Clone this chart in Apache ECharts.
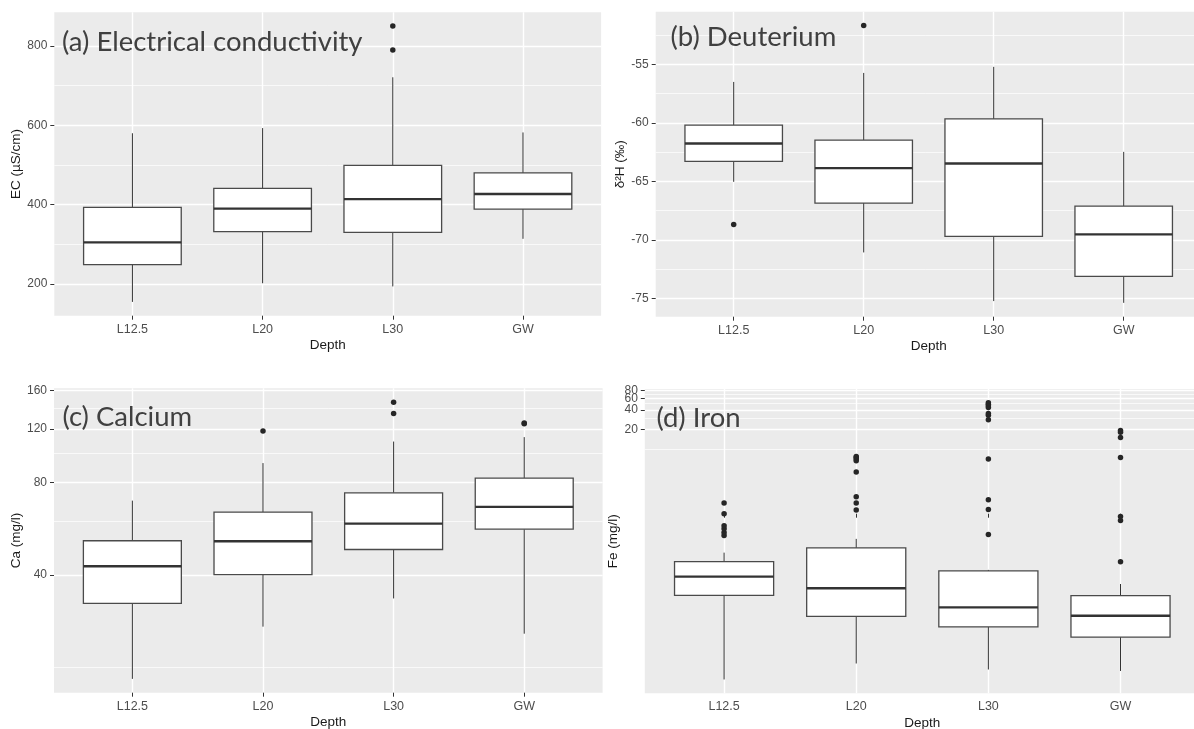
<!DOCTYPE html>
<html>
<head>
<meta charset="utf-8">
<script src="https://cdn.jsdelivr.net/npm/echarts@6/dist/echarts.min.js"></script>
<style>
  html, body { margin: 0; padding: 0; background: #ffffff; }
  #chart { width: 1194px; height: 729px; }
</style>
</head>
<body>
<div id="chart"></div>
<script>
// Sampling depths (x categories)
const depths = ['L12.5', 'L20', 'L30', 'GW'];

// Box summaries per depth: [lower whisker, Q1, median, Q3, upper whisker]
// (a) Electrical conductivity, µS/cm
const ecStats = [
  [155, 249, 305, 393, 580],
  [202, 332, 390, 441, 593],
  [194, 330, 414, 499, 721],
  [314, 389, 427, 480, 582]
];
const ecOutliers = [[], [], [790, 850], []];
const ecTicks = [200, 400, 600, 800];
const ecMinor = [300, 500, 700];

// (b) Deuterium, per mil
const d2hStats = [
  [-65.03, -63.29, -61.75, -60.19, -56.49],
  [-71.07, -66.85, -63.86, -61.47, -55.72],
  [-75.23, -69.70, -63.46, -59.65, -55.20],
  [-75.38, -73.12, -69.53, -67.11, -62.47]
];
const d2hOutliers = [[-68.68], [-51.67], [], []];
const d2hTicks = [-75, -70, -65, -60, -55];
const d2hMinor = [-72.5, -67.5, -62.5, -57.5, -52.5];

// (c) Calcium, mg/l (log scale)
const caStats = [
  [18.3, 32.3, 42.7, 51.7, 69.9],
  [27.1, 40.1, 51.5, 64.1, 92.7],
  [33.5, 48.4, 58.8, 74.1, 109.0],
  [25.7, 56.4, 66.7, 82.8, 112.7]
];
const caOutliers = [[], [117.9], [134.6, 146.6], [124.5, 125.2]];
const caTicks = [40, 80, 120, 160];
const caMinor = [20, 60, 100, 140];

// (d) Iron, mg/l (log scale)
const feStats = [
  [0.00278, 0.0552, 0.107, 0.182, 0.251],
  [0.0049, 0.0261, 0.0708, 0.297, 0.409],
  [0.00396, 0.018, 0.036, 0.131, 0.136],
  [0.00376, 0.0125, 0.0267, 0.0544, 0.0824]
];
const feOutliers = [
  [0.46, 0.512, 0.584, 0.65, 0.996, 1.46],
  [1.14, 1.46, 1.82, 4.39, 6.57, 6.98, 7.38, 7.65],
  [0.477, 1.16, 1.64, 6.98, 28.2, 32.9, 35.0, 43.3, 46.0, 48.7, 51.2],
  [0.182, 0.785, 0.904, 7.38, 15.0, 18.0, 19.1]
];
const feTicks = [20, 40, 60, 80];
const feMinor = [10, 30, 50, 70];

const panels = [
  { title: '(a) Electrical conductivity', yName: 'EC (µS/cm)', stats: ecStats, outliers: ecOutliers,
    ticks: ecTicks, minor: ecMinor, log: false,
    grid: { left: 54.3, top: 12.3, width: 546.8, height: 303.4 }, titlePos: { left: 62, top: 28.5 }, nameGap: 29 },
  { title: '(b) Deuterium', yName: 'δ²H (‰)', stats: d2hStats, outliers: d2hOutliers,
    ticks: d2hTicks, minor: d2hMinor, log: false,
    grid: { left: 655.7, top: 11.7, width: 546, height: 305 }, titlePos: { left: 670.5, top: 23.5 }, nameGap: 27 },
  { title: '(c) Calcium', yName: 'Ca (mg/l)', stats: caStats, outliers: caOutliers,
    ticks: caTicks, minor: caMinor, log: true,
    grid: { left: 54, top: 388.3, width: 548.6, height: 304.4 }, titlePos: { left: 62.4, top: 403 }, nameGap: 30 },
  { title: '(d) Iron', yName: 'Fe (mg/l)', stats: feStats, outliers: feOutliers,
    ticks: feTicks, minor: feMinor, log: true,
    grid: { left: 644.8, top: 389, width: 555, height: 304.3 }, titlePos: { left: 656.4, top: 403.8 }, nameGap: 23 }
];

const BOX_WIDTH = 0.75;
const TICK_COLOR = '#4d4d4d';
const AXIS_FONT = '"Liberation Sans", Arial, sans-serif';

// Box, whiskers and heavy median line drawn in data space
function renderBox(params, api) {
  const x = api.value(0);
  const lo = api.value(1), q1 = api.value(2), med = api.value(3), q3 = api.value(4), hi = api.value(5);
  const h = BOX_WIDTH / 2;
  const tl = api.coord([x - h, q3]);
  const br = api.coord([x + h, q1]);
  const top = api.coord([x, hi]);
  const bot = api.coord([x, lo]);
  const ml = api.coord([x - h, med]);
  const mr = api.coord([x + h, med]);
  const whisker = { stroke: '#333333', lineWidth: 1 };
  return {
    type: 'group',
    children: [
      { type: 'line', shape: { x1: top[0], y1: top[1], x2: top[0], y2: tl[1] }, style: whisker },
      { type: 'line', shape: { x1: bot[0], y1: br[1], x2: bot[0], y2: bot[1] }, style: whisker },
      { type: 'rect', shape: { x: tl[0], y: tl[1], width: br[0] - tl[0], height: br[1] - tl[1] },
        style: { fill: '#ffffff', stroke: '#4a4a4a', lineWidth: 1.3 } },
      { type: 'line', shape: { x1: ml[0], y1: ml[1], x2: mr[0], y2: mr[1] },
        style: { stroke: '#333333', lineWidth: 2.4 } }
    ]
  };
}

const option = {
  backgroundColor: '#ffffff',
  animation: false,
  title: [],
  grid: [],
  xAxis: [],
  yAxis: [],
  series: []
};

panels.forEach((p, i) => {
  const tf = p.log ? Math.log10 : (v => v);
  const boxes = p.stats.map((s, k) => [k + 1].concat(s.map(tf)));
  const pts = [];
  p.outliers.forEach((arr, k) => arr.forEach(v => pts.push([k + 1, tf(v)])));
  const all = boxes.flatMap(b => b.slice(1)).concat(pts.map(q => q[1]));
  let lo = Math.min.apply(null, all), hi = Math.max.apply(null, all);
  const pad = (hi - lo) * 0.05;
  lo -= pad; hi += pad;

  const labelFmt = p.log
    ? (v => String(Math.round(Math.pow(10, v))))
    : (v => String(Math.round(v * 100) / 100));

  // tick labels are split over two stacked axes so that closely spaced
  // labels (log scale tops) are all kept
  const tickVals = p.ticks.map(tf);
  const labelsA = tickVals.filter((v, k) => k % 2 === 0);
  const labelsB = tickVals.filter((v, k) => k % 2 === 1);
  const labelStyle = { margin: 7, fontFamily: AXIS_FONT, fontSize: 12, color: TICK_COLOR,
    formatter: labelFmt, showMinLabel: true, showMaxLabel: true, hideOverlap: false };

  option.title.push({
    text: p.title,
    left: p.titlePos.left,
    top: p.titlePos.top,
    padding: 0,
    textStyle: { fontFamily: 'Lato, "Open Sans", sans-serif', fontWeight: 'normal', fontSize: 27.5, color: '#404040' }
  });

  option.grid.push(Object.assign({
    show: true, backgroundColor: '#ebebeb', borderWidth: 0, containLabel: false, outerBoundsMode: 'none'
  }, p.grid));

  option.xAxis.push({
    type: 'value', gridIndex: i, min: 0.4, max: 4.6,
    name: 'Depth', nameLocation: 'middle', nameGap: 23,
    nameTextStyle: { fontFamily: AXIS_FONT, fontSize: 13.5, color: '#1a1a1a' },
    axisLine: { show: false },
    axisTick: { show: true, length: 4, lineStyle: { color: '#333333' }, customValues: [1, 2, 3, 4] },
    axisLabel: { margin: 7, fontFamily: AXIS_FONT, fontSize: 12.5, color: TICK_COLOR,
      customValues: [1, 2, 3, 4], formatter: v => depths[Math.round(v) - 1],
      showMinLabel: true, showMaxLabel: true },
    splitLine: { show: true, lineStyle: { color: '#ffffff', width: 1.4 } }
  });

  // major ticks, grid lines and every other label
  option.yAxis.push({
    type: 'value', gridIndex: i, min: lo, max: hi, position: 'left',
    name: p.yName, nameLocation: 'middle', nameGap: p.nameGap, nameRotate: 90,
    nameTextStyle: { fontFamily: AXIS_FONT, fontSize: 13.5, color: '#1a1a1a' },
    axisLine: { show: false },
    axisTick: { show: true, length: 4, lineStyle: { color: '#333333' }, customValues: tickVals },
    axisLabel: Object.assign({ customValues: labelsA }, labelStyle),
    splitLine: { show: true, lineStyle: { color: '#ffffff', width: 1.4 } }
  });
  // minor grid lines and the remaining labels
  option.yAxis.push({
    type: 'value', gridIndex: i, min: lo, max: hi, position: 'left',
    axisLine: { show: false },
    axisTick: { show: false, customValues: p.minor.map(tf) },
    axisLabel: Object.assign({ customValues: labelsB }, labelStyle),
    splitLine: { show: true, lineStyle: { color: '#ffffff', width: 0.7 } }
  });

  option.series.push({
    type: 'custom', xAxisIndex: i, yAxisIndex: 2 * i, z: 3,
    renderItem: renderBox,
    encode: { x: 0, y: [1, 2, 3, 4, 5] },
    data: boxes,
    silent: true
  });
  option.series.push({
    type: 'scatter', xAxisIndex: i, yAxisIndex: 2 * i, z: 4,
    symbolSize: 5.5,
    itemStyle: { color: '#262626', opacity: 1 },
    data: pts,
    silent: true
  });
});

const chart = echarts.init(document.getElementById('chart'), null, { renderer: 'canvas', width: 1194, height: 729 });
chart.setOption(option);
</script>
</body>
</html>
